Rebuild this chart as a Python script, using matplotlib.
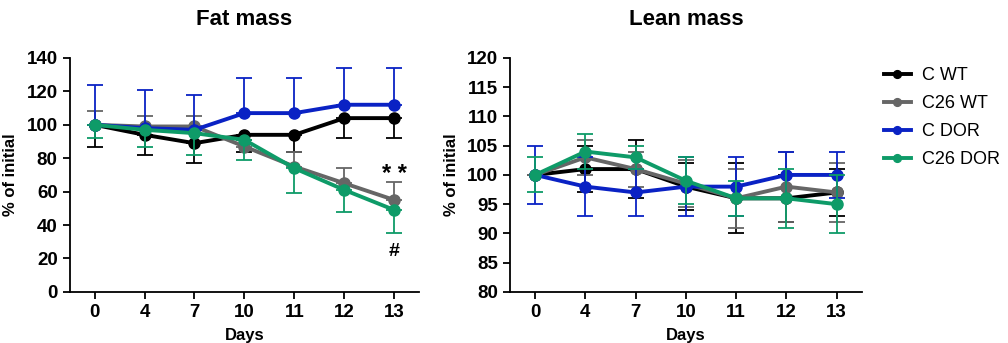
import matplotlib.pyplot as plt
import numpy as np

plt.rcParams['font.family'] = ['Liberation Sans', 'DejaVu Sans']

# ── Data ──
days = ['0', '4', '7', '10', '11', '12', '13']
groups = ['C WT', 'C26 WT', 'C DOR', 'C26 DOR']
colors = ['#000000', '#666666', '#0a22c4', '#0e9b68']

# fat mass (% of initial), errors one-sided as in the original
fat_c_wt = [100, 94, 89, 94, 94, 104, 104]
fat_c_wt_err = [13, 12, 12, 10, 10, 12, 12]          # down
fat_c26_wt = [100, 99, 99, 87, 75, 65, 55]
fat_c26_wt_err = [8, 6, 6, 4, 9, 9, 11]              # up
fat_c_dor = [100, 98, 97, 107, 107, 112, 112]
fat_c_dor_err = [24, 23, 21, 21, 21, 22, 22]         # up
fat_c26_dor = [100, 97, 95, 91, 74, 61, 49]
fat_c26_dor_err = [8, 10, 13, 12, 15, 13, 14]        # down

# lean mass (% of initial), symmetric errors
lean_c_wt = [100, 101, 101, 98, 96, 96, 97]
lean_c_wt_err = [0, 4, 5, 4, 6, 4, 4]
lean_c26_wt = [100, 103, 101, 98.5, 96, 98, 97]
lean_c26_wt_err = [0, 3, 3, 4, 5, 6, 5]
lean_c_dor = [100, 98, 97, 98, 98, 100, 100]
lean_c_dor_err = [5, 5, 4, 5, 5, 4, 4]
lean_c26_dor = [100, 104, 103, 99, 96, 96, 95]
lean_c26_dor_err = [3, 3, 2, 4, 3, 5, 5]

fat = [(fat_c_wt, fat_c_wt_err, 'down'), (fat_c26_wt, fat_c26_wt_err, 'up'),
       (fat_c_dor, fat_c_dor_err, 'up'), (fat_c26_dor, fat_c26_dor_err, 'down')]
lean = [(lean_c_wt, lean_c_wt_err, 'both'), (lean_c26_wt, lean_c26_wt_err, 'both'),
        (lean_c_dor, lean_c_dor_err, 'both'), (lean_c26_dor, lean_c26_dor_err, 'both')]

fig = plt.figure(figsize=(10.08, 3.43), dpi=100)
ax1 = fig.add_axes([0.069, 0.149, 0.347, 0.682])
ax2 = fig.add_axes([0.506, 0.149, 0.349, 0.682])
x = np.arange(len(days))


def draw(ax, series):
    handles = []
    for (vals, err, side), col, name in zip(series, colors, groups):
        vals = np.array(vals, dtype=float)
        err = np.array(err, dtype=float)
        zero = np.zeros_like(err)
        if side == 'down':
            yerr = [err, zero]
        elif side == 'up':
            yerr = [zero, err]
        else:
            yerr = [err, err]
        ax.errorbar(x, vals, yerr=yerr, fmt='none', ecolor=col,
                    elinewidth=1.3, capsize=6, capthick=1.3)
        h, = ax.plot(x, vals, color=col, lw=2.8, marker='o', ms=8, label=name)
        handles.append(h)
    ax.set_xlim(-0.5, 6.5)
    ax.set_xticks(x)
    ax.set_xticklabels(days)
    for s in ['top', 'right']:
        ax.spines[s].set_visible(False)
    for s in ['left', 'bottom']:
        ax.spines[s].set_linewidth(1.3)
    ax.tick_params(width=1.3, length=5, labelsize=13.5)
    for lab in ax.get_xticklabels() + ax.get_yticklabels():
        lab.set_fontweight('bold')
    ax.set_xlabel('Days', fontsize=12, fontweight='bold', labelpad=5)
    ax.set_ylabel('% of initial', fontsize=12, fontweight='bold', labelpad=6)
    return handles


handles = draw(ax1, fat)
ax1.set_ylim(0, 140)
ax1.set_yticks(range(0, 141, 20))
ax1.set_title('Fat mass', fontsize=16, fontweight='bold', pad=24)
ax1.text(6, 70, '* *', ha='center', va='center', fontsize=17, fontweight='bold')
ax1.text(6, 24, '#', ha='center', va='center', fontsize=14, fontweight='bold')

draw(ax2, lean)
ax2.set_ylim(80, 120)
ax2.set_yticks(range(80, 121, 5))
ax2.set_title('Lean mass', fontsize=16, fontweight='bold', pad=24)

fig.legend(handles=handles, labels=groups, loc='upper left',
           bbox_to_anchor=(0.866, 0.835), frameon=False, fontsize=13,
           handlelength=1.5, handletextpad=0.6, labelspacing=0.6,
           borderaxespad=0.2, markerscale=0.7)

fig.savefig('out.png', dpi=100)
